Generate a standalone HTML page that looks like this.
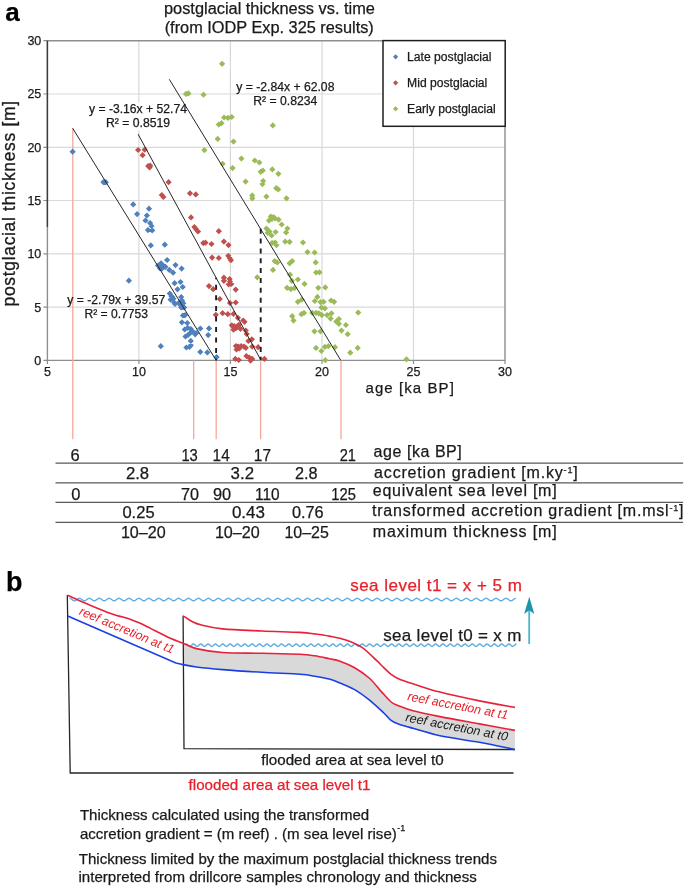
<!DOCTYPE html>
<html><head><meta charset="utf-8"><style>
html,body{margin:0;padding:0;background:#fff;}
svg{display:block;font-family:"Liberation Sans", sans-serif;will-change:transform;}
</style></head><body>
<svg width="685" height="888" viewBox="0 0 685 888">
<rect width="685" height="888" fill="#fff"/>
<path d="M138.9,40.7V360.4 M230.4,40.7V360.4 M322.0,40.7V360.4 M413.5,40.7V360.4 M47.4,307.1H505 M47.4,253.8H505 M47.4,200.5H505 M47.4,147.3H505 M47.4,94.0H505" stroke="#d9d9d9" stroke-width="1.2" fill="none"/>
<rect x="88" y="102.5" width="99" height="28" fill="#fff"/>
<path d="M43.4,360.4H47.4 M43.4,307.1H47.4 M43.4,253.8H47.4 M43.4,200.5H47.4 M43.4,147.3H47.4 M43.4,94.0H47.4 M43.4,40.7H47.4 M47.4,360.4V364 M138.9,360.4V364 M230.4,360.4V364 M322.0,360.4V364 M413.5,360.4V364 M505.0,360.4V364" stroke="#8c8c8c" stroke-width="1.2" fill="none"/>
<path d="M47.4,40.7H505V360.4H47.4Z" stroke="#8e8e8e" stroke-width="1.4" fill="none"/>
<path d="M47.4,40.7V227" stroke="#3c3c3c" stroke-width="1.4" fill="none"/>
<path d="M72.8,128.3V439.3 M193.7,360.4V439.3 M216.2,360.4V439.3 M260.6,360.4V439.3 M341.0,360.4V439.3" stroke="#f4a89c" stroke-width="1.3" fill="none"/>
<path d="M222.1,60.7l3.1,3.1l-3.1,3.1l-3.1,-3.1zM186.0,90.8l3.1,3.1l-3.1,3.1l-3.1,-3.1zM188.4,90.3l3.1,3.1l-3.1,3.1l-3.1,-3.1zM203.5,91.6l3.1,3.1l-3.1,3.1l-3.1,-3.1zM218.8,121.4l3.1,3.1l-3.1,3.1l-3.1,-3.1zM221.5,120.1l3.1,3.1l-3.1,3.1l-3.1,-3.1zM224.1,114.4l3.1,3.1l-3.1,3.1l-3.1,-3.1zM228.0,114.8l3.1,3.1l-3.1,3.1l-3.1,-3.1zM231.7,113.9l3.1,3.1l-3.1,3.1l-3.1,-3.1zM272.8,122.3l3.1,3.1l-3.1,3.1l-3.1,-3.1zM217.7,135.8l3.1,3.1l-3.1,3.1l-3.1,-3.1zM233.5,138.5l3.1,3.1l-3.1,3.1l-3.1,-3.1zM204.4,147.0l3.1,3.1l-3.1,3.1l-3.1,-3.1zM241.4,155.5l3.1,3.1l-3.1,3.1l-3.1,-3.1zM222.6,160.7l3.1,3.1l-3.1,3.1l-3.1,-3.1zM254.8,157.4l3.1,3.1l-3.1,3.1l-3.1,-3.1zM259.4,159.4l3.1,3.1l-3.1,3.1l-3.1,-3.1zM232.6,165.0l3.1,3.1l-3.1,3.1l-3.1,-3.1zM260.7,168.7l3.1,3.1l-3.1,3.1l-3.1,-3.1zM262.8,167.4l3.1,3.1l-3.1,3.1l-3.1,-3.1zM272.3,166.3l3.1,3.1l-3.1,3.1l-3.1,-3.1zM278.4,170.7l3.1,3.1l-3.1,3.1l-3.1,-3.1zM245.6,178.5l3.1,3.1l-3.1,3.1l-3.1,-3.1zM263.1,177.9l3.1,3.1l-3.1,3.1l-3.1,-3.1zM262.4,181.0l3.1,3.1l-3.1,3.1l-3.1,-3.1zM276.2,185.1l3.1,3.1l-3.1,3.1l-3.1,-3.1zM278.2,186.3l3.1,3.1l-3.1,3.1l-3.1,-3.1zM252.2,192.3l3.1,3.1l-3.1,3.1l-3.1,-3.1zM252.3,195.2l3.1,3.1l-3.1,3.1l-3.1,-3.1zM266.4,193.5l3.1,3.1l-3.1,3.1l-3.1,-3.1zM286.5,195.2l3.1,3.1l-3.1,3.1l-3.1,-3.1zM270.8,213.5l3.1,3.1l-3.1,3.1l-3.1,-3.1zM273.4,214.0l3.1,3.1l-3.1,3.1l-3.1,-3.1zM275.1,215.3l3.1,3.1l-3.1,3.1l-3.1,-3.1zM269.0,217.5l3.1,3.1l-3.1,3.1l-3.1,-3.1zM272.1,215.7l3.1,3.1l-3.1,3.1l-3.1,-3.1zM278.6,216.6l3.1,3.1l-3.1,3.1l-3.1,-3.1zM281.7,221.4l3.1,3.1l-3.1,3.1l-3.1,-3.1zM287.4,225.4l3.1,3.1l-3.1,3.1l-3.1,-3.1zM286.1,229.3l3.1,3.1l-3.1,3.1l-3.1,-3.1zM266.4,225.4l3.1,3.1l-3.1,3.1l-3.1,-3.1zM268.1,227.1l3.1,3.1l-3.1,3.1l-3.1,-3.1zM269.4,228.4l3.1,3.1l-3.1,3.1l-3.1,-3.1zM267.7,229.7l3.1,3.1l-3.1,3.1l-3.1,-3.1zM275.6,228.9l3.1,3.1l-3.1,3.1l-3.1,-3.1zM271.6,232.4l3.1,3.1l-3.1,3.1l-3.1,-3.1zM272.1,239.8l3.1,3.1l-3.1,3.1l-3.1,-3.1zM275.1,239.4l3.1,3.1l-3.1,3.1l-3.1,-3.1zM276.5,242.0l3.1,3.1l-3.1,3.1l-3.1,-3.1zM285.2,238.5l3.1,3.1l-3.1,3.1l-3.1,-3.1zM289.6,238.8l3.1,3.1l-3.1,3.1l-3.1,-3.1zM303.0,239.4l3.1,3.1l-3.1,3.1l-3.1,-3.1zM307.5,249.0l3.1,3.1l-3.1,3.1l-3.1,-3.1zM314.6,249.4l3.1,3.1l-3.1,3.1l-3.1,-3.1zM274.7,258.0l3.1,3.1l-3.1,3.1l-3.1,-3.1zM277.3,259.3l3.1,3.1l-3.1,3.1l-3.1,-3.1zM289.6,260.2l3.1,3.1l-3.1,3.1l-3.1,-3.1zM292.2,258.0l3.1,3.1l-3.1,3.1l-3.1,-3.1zM273.0,266.8l3.1,3.1l-3.1,3.1l-3.1,-3.1zM257.2,274.2l3.1,3.1l-3.1,3.1l-3.1,-3.1zM290.0,271.6l3.1,3.1l-3.1,3.1l-3.1,-3.1zM291.8,277.7l3.1,3.1l-3.1,3.1l-3.1,-3.1zM297.9,276.4l3.1,3.1l-3.1,3.1l-3.1,-3.1zM304.5,280.8l3.1,3.1l-3.1,3.1l-3.1,-3.1zM287.0,284.7l3.1,3.1l-3.1,3.1l-3.1,-3.1zM290.9,286.0l3.1,3.1l-3.1,3.1l-3.1,-3.1zM294.4,285.0l3.1,3.1l-3.1,3.1l-3.1,-3.1zM297.9,298.7l3.1,3.1l-3.1,3.1l-3.1,-3.1zM301.8,296.6l3.1,3.1l-3.1,3.1l-3.1,-3.1zM315.7,259.3l3.1,3.1l-3.1,3.1l-3.1,-3.1zM316.1,269.4l3.1,3.1l-3.1,3.1l-3.1,-3.1zM319.5,269.2l3.1,3.1l-3.1,3.1l-3.1,-3.1zM318.3,284.7l3.1,3.1l-3.1,3.1l-3.1,-3.1zM325.3,284.3l3.1,3.1l-3.1,3.1l-3.1,-3.1zM317.4,293.8l3.1,3.1l-3.1,3.1l-3.1,-3.1zM314.8,297.9l3.1,3.1l-3.1,3.1l-3.1,-3.1zM320.5,299.0l3.1,3.1l-3.1,3.1l-3.1,-3.1zM323.6,298.7l3.1,3.1l-3.1,3.1l-3.1,-3.1zM331.0,297.4l3.1,3.1l-3.1,3.1l-3.1,-3.1zM334.1,298.7l3.1,3.1l-3.1,3.1l-3.1,-3.1zM321.4,304.4l3.1,3.1l-3.1,3.1l-3.1,-3.1zM324.9,305.3l3.1,3.1l-3.1,3.1l-3.1,-3.1zM358.2,309.5l3.1,3.1l-3.1,3.1l-3.1,-3.1zM292.2,313.1l3.1,3.1l-3.1,3.1l-3.1,-3.1zM293.5,317.5l3.1,3.1l-3.1,3.1l-3.1,-3.1zM301.4,311.1l3.1,3.1l-3.1,3.1l-3.1,-3.1zM304.0,309.8l3.1,3.1l-3.1,3.1l-3.1,-3.1zM312.4,309.8l3.1,3.1l-3.1,3.1l-3.1,-3.1zM316.1,309.8l3.1,3.1l-3.1,3.1l-3.1,-3.1zM318.8,310.2l3.1,3.1l-3.1,3.1l-3.1,-3.1zM321.8,312.0l3.1,3.1l-3.1,3.1l-3.1,-3.1zM327.1,312.0l3.1,3.1l-3.1,3.1l-3.1,-3.1zM331.5,310.2l3.1,3.1l-3.1,3.1l-3.1,-3.1zM330.6,315.5l3.1,3.1l-3.1,3.1l-3.1,-3.1zM338.9,315.9l3.1,3.1l-3.1,3.1l-3.1,-3.1zM336.3,318.5l3.1,3.1l-3.1,3.1l-3.1,-3.1zM338.9,320.7l3.1,3.1l-3.1,3.1l-3.1,-3.1zM345.9,321.9l3.1,3.1l-3.1,3.1l-3.1,-3.1zM341.5,327.5l3.1,3.1l-3.1,3.1l-3.1,-3.1zM347.7,331.1l3.1,3.1l-3.1,3.1l-3.1,-3.1zM314.4,328.2l3.1,3.1l-3.1,3.1l-3.1,-3.1zM320.5,328.2l3.1,3.1l-3.1,3.1l-3.1,-3.1zM316.0,344.8l3.1,3.1l-3.1,3.1l-3.1,-3.1zM321.4,347.9l3.1,3.1l-3.1,3.1l-3.1,-3.1zM324.9,343.8l3.1,3.1l-3.1,3.1l-3.1,-3.1zM328.4,343.1l3.1,3.1l-3.1,3.1l-3.1,-3.1zM335.0,344.1l3.1,3.1l-3.1,3.1l-3.1,-3.1zM350.3,349.6l3.1,3.1l-3.1,3.1l-3.1,-3.1zM357.7,344.8l3.1,3.1l-3.1,3.1l-3.1,-3.1zM325.3,357.1l3.1,3.1l-3.1,3.1l-3.1,-3.1zM406.5,356.2l3.1,3.1l-3.1,3.1l-3.1,-3.1z" fill="#9bbb59"/>
<path d="M138.1,146.9l3.1,3.1l-3.1,3.1l-3.1,-3.1zM144.7,146.6l3.1,3.1l-3.1,3.1l-3.1,-3.1zM142.6,152.1l3.1,3.1l-3.1,3.1l-3.1,-3.1zM148.2,163.0l3.1,3.1l-3.1,3.1l-3.1,-3.1zM150.2,162.6l3.1,3.1l-3.1,3.1l-3.1,-3.1zM149.6,164.3l3.1,3.1l-3.1,3.1l-3.1,-3.1zM168.6,179.1l3.1,3.1l-3.1,3.1l-3.1,-3.1zM161.8,191.9l3.1,3.1l-3.1,3.1l-3.1,-3.1zM163.4,193.9l3.1,3.1l-3.1,3.1l-3.1,-3.1zM190.0,190.2l3.1,3.1l-3.1,3.1l-3.1,-3.1zM195.8,191.3l3.1,3.1l-3.1,3.1l-3.1,-3.1zM191.0,214.3l3.1,3.1l-3.1,3.1l-3.1,-3.1zM194.4,224.0l3.1,3.1l-3.1,3.1l-3.1,-3.1zM196.2,226.2l3.1,3.1l-3.1,3.1l-3.1,-3.1zM198.0,228.4l3.1,3.1l-3.1,3.1l-3.1,-3.1zM218.8,228.1l3.1,3.1l-3.1,3.1l-3.1,-3.1zM203.3,240.0l3.1,3.1l-3.1,3.1l-3.1,-3.1zM205.5,239.6l3.1,3.1l-3.1,3.1l-3.1,-3.1zM211.5,240.9l3.1,3.1l-3.1,3.1l-3.1,-3.1zM223.9,238.5l3.1,3.1l-3.1,3.1l-3.1,-3.1zM228.5,242.0l3.1,3.1l-3.1,3.1l-3.1,-3.1zM212.1,254.5l3.1,3.1l-3.1,3.1l-3.1,-3.1zM218.8,254.9l3.1,3.1l-3.1,3.1l-3.1,-3.1zM228.3,252.7l3.1,3.1l-3.1,3.1l-3.1,-3.1zM229.6,254.9l3.1,3.1l-3.1,3.1l-3.1,-3.1zM230.9,257.1l3.1,3.1l-3.1,3.1l-3.1,-3.1zM223.9,274.6l3.1,3.1l-3.1,3.1l-3.1,-3.1zM223.9,277.7l3.1,3.1l-3.1,3.1l-3.1,-3.1zM229.6,275.9l3.1,3.1l-3.1,3.1l-3.1,-3.1zM230.0,278.6l3.1,3.1l-3.1,3.1l-3.1,-3.1zM228.7,281.2l3.1,3.1l-3.1,3.1l-3.1,-3.1zM231.3,280.8l3.1,3.1l-3.1,3.1l-3.1,-3.1zM209.0,283.0l3.1,3.1l-3.1,3.1l-3.1,-3.1zM213.2,286.1l3.1,3.1l-3.1,3.1l-3.1,-3.1zM235.7,286.5l3.1,3.1l-3.1,3.1l-3.1,-3.1zM219.8,295.9l3.1,3.1l-3.1,3.1l-3.1,-3.1zM230.0,299.9l3.1,3.1l-3.1,3.1l-3.1,-3.1zM235.7,299.4l3.1,3.1l-3.1,3.1l-3.1,-3.1zM215.8,311.7l3.1,3.1l-3.1,3.1l-3.1,-3.1zM222.6,310.1l3.1,3.1l-3.1,3.1l-3.1,-3.1zM227.8,311.1l3.1,3.1l-3.1,3.1l-3.1,-3.1zM233.5,310.8l3.1,3.1l-3.1,3.1l-3.1,-3.1zM237.9,314.7l3.1,3.1l-3.1,3.1l-3.1,-3.1zM244.5,318.7l3.1,3.1l-3.1,3.1l-3.1,-3.1zM243.2,317.4l3.1,3.1l-3.1,3.1l-3.1,-3.1zM231.8,322.2l3.1,3.1l-3.1,3.1l-3.1,-3.1zM234.4,323.1l3.1,3.1l-3.1,3.1l-3.1,-3.1zM238.8,321.7l3.1,3.1l-3.1,3.1l-3.1,-3.1zM233.5,326.6l3.1,3.1l-3.1,3.1l-3.1,-3.1zM240.5,325.7l3.1,3.1l-3.1,3.1l-3.1,-3.1zM236.2,324.8l3.1,3.1l-3.1,3.1l-3.1,-3.1zM245.8,327.4l3.1,3.1l-3.1,3.1l-3.1,-3.1zM246.7,330.9l3.1,3.1l-3.1,3.1l-3.1,-3.1zM248.4,337.9l3.1,3.1l-3.1,3.1l-3.1,-3.1zM251.9,336.2l3.1,3.1l-3.1,3.1l-3.1,-3.1zM235.9,342.9l3.1,3.1l-3.1,3.1l-3.1,-3.1zM238.2,343.5l3.1,3.1l-3.1,3.1l-3.1,-3.1zM241.1,342.9l3.1,3.1l-3.1,3.1l-3.1,-3.1zM244.0,343.5l3.1,3.1l-3.1,3.1l-3.1,-3.1zM245.8,344.7l3.1,3.1l-3.1,3.1l-3.1,-3.1zM236.5,346.4l3.1,3.1l-3.1,3.1l-3.1,-3.1zM239.4,345.3l3.1,3.1l-3.1,3.1l-3.1,-3.1zM252.2,343.5l3.1,3.1l-3.1,3.1l-3.1,-3.1zM258.1,344.1l3.1,3.1l-3.1,3.1l-3.1,-3.1zM235.3,355.8l3.1,3.1l-3.1,3.1l-3.1,-3.1zM238.8,356.9l3.1,3.1l-3.1,3.1l-3.1,-3.1zM246.4,352.9l3.1,3.1l-3.1,3.1l-3.1,-3.1zM249.3,354.6l3.1,3.1l-3.1,3.1l-3.1,-3.1zM252.2,355.8l3.1,3.1l-3.1,3.1l-3.1,-3.1zM250.5,357.5l3.1,3.1l-3.1,3.1l-3.1,-3.1zM264.5,355.8l3.1,3.1l-3.1,3.1l-3.1,-3.1z" fill="#c0504d"/>
<path d="M72.6,148.6l3.1,3.1l-3.1,3.1l-3.1,-3.1zM103.4,179.1l3.1,3.1l-3.1,3.1l-3.1,-3.1zM105.8,179.1l3.1,3.1l-3.1,3.1l-3.1,-3.1zM133.2,201.3l3.1,3.1l-3.1,3.1l-3.1,-3.1zM137.1,211.0l3.1,3.1l-3.1,3.1l-3.1,-3.1zM149.0,205.6l3.1,3.1l-3.1,3.1l-3.1,-3.1zM146.9,212.4l3.1,3.1l-3.1,3.1l-3.1,-3.1zM145.5,217.4l3.1,3.1l-3.1,3.1l-3.1,-3.1zM150.1,220.0l3.1,3.1l-3.1,3.1l-3.1,-3.1zM151.5,222.9l3.1,3.1l-3.1,3.1l-3.1,-3.1zM148.0,227.0l3.1,3.1l-3.1,3.1l-3.1,-3.1zM152.2,227.3l3.1,3.1l-3.1,3.1l-3.1,-3.1zM150.8,242.3l3.1,3.1l-3.1,3.1l-3.1,-3.1zM164.8,241.6l3.1,3.1l-3.1,3.1l-3.1,-3.1zM167.1,256.9l3.1,3.1l-3.1,3.1l-3.1,-3.1zM158.0,262.4l3.1,3.1l-3.1,3.1l-3.1,-3.1zM161.0,260.2l3.1,3.1l-3.1,3.1l-3.1,-3.1zM163.2,262.4l3.1,3.1l-3.1,3.1l-3.1,-3.1zM161.9,265.5l3.1,3.1l-3.1,3.1l-3.1,-3.1zM165.4,263.7l3.1,3.1l-3.1,3.1l-3.1,-3.1zM159.7,265.0l3.1,3.1l-3.1,3.1l-3.1,-3.1zM175.5,262.0l3.1,3.1l-3.1,3.1l-3.1,-3.1zM181.6,265.5l3.1,3.1l-3.1,3.1l-3.1,-3.1zM169.3,266.8l3.1,3.1l-3.1,3.1l-3.1,-3.1zM173.1,269.6l3.1,3.1l-3.1,3.1l-3.1,-3.1zM174.6,280.1l3.1,3.1l-3.1,3.1l-3.1,-3.1zM180.5,278.9l3.1,3.1l-3.1,3.1l-3.1,-3.1zM182.7,283.9l3.1,3.1l-3.1,3.1l-3.1,-3.1zM177.5,286.2l3.1,3.1l-3.1,3.1l-3.1,-3.1zM169.8,290.4l3.1,3.1l-3.1,3.1l-3.1,-3.1zM171.5,293.1l3.1,3.1l-3.1,3.1l-3.1,-3.1zM173.3,295.7l3.1,3.1l-3.1,3.1l-3.1,-3.1zM170.6,296.6l3.1,3.1l-3.1,3.1l-3.1,-3.1zM174.2,299.6l3.1,3.1l-3.1,3.1l-3.1,-3.1zM175.0,300.9l3.1,3.1l-3.1,3.1l-3.1,-3.1zM172.4,293.9l3.1,3.1l-3.1,3.1l-3.1,-3.1zM181.2,293.9l3.1,3.1l-3.1,3.1l-3.1,-3.1zM182.0,297.4l3.1,3.1l-3.1,3.1l-3.1,-3.1zM183.3,300.1l3.1,3.1l-3.1,3.1l-3.1,-3.1zM180.3,301.8l3.1,3.1l-3.1,3.1l-3.1,-3.1zM181.2,304.4l3.1,3.1l-3.1,3.1l-3.1,-3.1zM184.2,304.4l3.1,3.1l-3.1,3.1l-3.1,-3.1zM179.4,299.2l3.1,3.1l-3.1,3.1l-3.1,-3.1zM182.9,312.4l3.1,3.1l-3.1,3.1l-3.1,-3.1zM185.1,312.0l3.1,3.1l-3.1,3.1l-3.1,-3.1zM181.9,319.2l3.1,3.1l-3.1,3.1l-3.1,-3.1zM187.3,319.9l3.1,3.1l-3.1,3.1l-3.1,-3.1zM184.7,326.4l3.1,3.1l-3.1,3.1l-3.1,-3.1zM187.7,324.7l3.1,3.1l-3.1,3.1l-3.1,-3.1zM190.8,326.0l3.1,3.1l-3.1,3.1l-3.1,-3.1zM192.5,328.2l3.1,3.1l-3.1,3.1l-3.1,-3.1zM195.2,331.2l3.1,3.1l-3.1,3.1l-3.1,-3.1zM185.5,333.4l3.1,3.1l-3.1,3.1l-3.1,-3.1zM188.2,331.7l3.1,3.1l-3.1,3.1l-3.1,-3.1zM190.3,329.9l3.1,3.1l-3.1,3.1l-3.1,-3.1zM200.3,325.4l3.1,3.1l-3.1,3.1l-3.1,-3.1zM196.2,330.1l3.1,3.1l-3.1,3.1l-3.1,-3.1zM209.0,325.3l3.1,3.1l-3.1,3.1l-3.1,-3.1zM208.2,332.0l3.1,3.1l-3.1,3.1l-3.1,-3.1zM190.8,337.8l3.1,3.1l-3.1,3.1l-3.1,-3.1zM186.4,344.4l3.1,3.1l-3.1,3.1l-3.1,-3.1zM189.5,343.9l3.1,3.1l-3.1,3.1l-3.1,-3.1zM190.8,342.2l3.1,3.1l-3.1,3.1l-3.1,-3.1zM160.8,343.1l3.1,3.1l-3.1,3.1l-3.1,-3.1zM200.3,348.8l3.1,3.1l-3.1,3.1l-3.1,-3.1zM207.3,349.3l3.1,3.1l-3.1,3.1l-3.1,-3.1zM216.6,354.0l3.1,3.1l-3.1,3.1l-3.1,-3.1zM128.9,277.6l3.1,3.1l-3.1,3.1l-3.1,-3.1z" fill="#4f81bd"/>
<path d="M72.7,128.3L215.8,359.8M138.1,134.2L260.7,359.8M169.3,79.3L340.7,360.2" stroke="#262626" stroke-width="1.0" fill="none"/>
<path d="M216.1,277.7V360.4" stroke="#1e1e1e" stroke-width="1.9" stroke-dasharray="5 5.55" stroke-dashoffset="3.45" fill="none"/>
<path d="M260.7,228.7V360" stroke="#1e1e1e" stroke-width="1.9" stroke-dasharray="5 4.85" fill="none"/>
<text x="89.0" y="112.5" font-size="12" fill="#1a1a1a" font-weight="normal" text-anchor="start" textLength="97.9" lengthAdjust="spacingAndGlyphs" stroke="#1a1a1a" stroke-width="0.25" >y = -3.16x + 52.74</text>
<text x="106.0" y="126.5" font-size="12" fill="#1a1a1a" font-weight="normal" text-anchor="start" textLength="64.1" lengthAdjust="spacingAndGlyphs" stroke="#1a1a1a" stroke-width="0.25" >R² = 0.8519</text>
<text x="236.3" y="91.2" font-size="12" fill="#1a1a1a" font-weight="normal" text-anchor="start" textLength="98.1" lengthAdjust="spacingAndGlyphs" stroke="#1a1a1a" stroke-width="0.25" >y = -2.84x + 62.08</text>
<text x="253.3" y="104.6" font-size="12" fill="#1a1a1a" font-weight="normal" text-anchor="start" textLength="64.1" lengthAdjust="spacingAndGlyphs" stroke="#1a1a1a" stroke-width="0.25" >R² = 0.8234</text>
<text x="67.3" y="304.1" font-size="12" fill="#1a1a1a" font-weight="normal" text-anchor="start" textLength="97.9" lengthAdjust="spacingAndGlyphs" stroke="#1a1a1a" stroke-width="0.25" >y = -2.79x + 39.57</text>
<text x="84.5" y="318.0" font-size="12" fill="#1a1a1a" font-weight="normal" text-anchor="start" textLength="63.5" lengthAdjust="spacingAndGlyphs" stroke="#1a1a1a" stroke-width="0.25" >R² = 0.7753</text>
<rect x="383" y="40.6" width="122.2" height="85.7" fill="#fff" stroke="#1e1e1e" stroke-width="1.5"/>
<path d="M395.6,54.2l2.6,2.6l-2.6,2.6l-2.6,-2.6z" fill="#4f81bd"/>
<text x="407.1" y="61.0" font-size="12" fill="#1a1a1a" font-weight="normal" text-anchor="start" textLength="84.4" lengthAdjust="spacingAndGlyphs" stroke="#1a1a1a" stroke-width="0.25" >Late postglacial</text>
<path d="M395.6,80.2l2.6,2.6l-2.6,2.6l-2.6,-2.6z" fill="#c0504d"/>
<text x="407.1" y="87.0" font-size="12" fill="#1a1a1a" font-weight="normal" text-anchor="start" textLength="80.2" lengthAdjust="spacingAndGlyphs" stroke="#1a1a1a" stroke-width="0.25" >Mid postglacial</text>
<path d="M395.6,106.2l2.6,2.6l-2.6,2.6l-2.6,-2.6z" fill="#9bbb59"/>
<text x="407.1" y="113.0" font-size="12" fill="#1a1a1a" font-weight="normal" text-anchor="start" textLength="88.6" lengthAdjust="spacingAndGlyphs" stroke="#1a1a1a" stroke-width="0.25" >Early postglacial</text>
<text x="41.3" y="364.8" font-size="12.5" fill="#1a1a1a" font-weight="normal" text-anchor="end" stroke="#1a1a1a" stroke-width="0.25" >0</text>
<text x="41.3" y="311.5" font-size="12.5" fill="#1a1a1a" font-weight="normal" text-anchor="end" stroke="#1a1a1a" stroke-width="0.25" >5</text>
<text x="41.3" y="258.2" font-size="12.5" fill="#1a1a1a" font-weight="normal" text-anchor="end" stroke="#1a1a1a" stroke-width="0.25" >10</text>
<text x="41.3" y="204.9" font-size="12.5" fill="#1a1a1a" font-weight="normal" text-anchor="end" stroke="#1a1a1a" stroke-width="0.25" >15</text>
<text x="41.3" y="151.7" font-size="12.5" fill="#1a1a1a" font-weight="normal" text-anchor="end" stroke="#1a1a1a" stroke-width="0.25" >20</text>
<text x="41.3" y="98.4" font-size="12.5" fill="#1a1a1a" font-weight="normal" text-anchor="end" stroke="#1a1a1a" stroke-width="0.25" >25</text>
<text x="41.3" y="45.1" font-size="12.5" fill="#1a1a1a" font-weight="normal" text-anchor="end" stroke="#1a1a1a" stroke-width="0.25" >30</text>
<text x="47.4" y="375.8" font-size="12.5" fill="#1a1a1a" font-weight="normal" text-anchor="middle" stroke="#1a1a1a" stroke-width="0.25" >5</text>
<text x="138.9" y="375.8" font-size="12.5" fill="#1a1a1a" font-weight="normal" text-anchor="middle" stroke="#1a1a1a" stroke-width="0.25" >10</text>
<text x="230.4" y="375.8" font-size="12.5" fill="#1a1a1a" font-weight="normal" text-anchor="middle" stroke="#1a1a1a" stroke-width="0.25" >15</text>
<text x="322.0" y="375.8" font-size="12.5" fill="#1a1a1a" font-weight="normal" text-anchor="middle" stroke="#1a1a1a" stroke-width="0.25" >20</text>
<text x="413.5" y="375.8" font-size="12.5" fill="#1a1a1a" font-weight="normal" text-anchor="middle" stroke="#1a1a1a" stroke-width="0.25" >25</text>
<text x="505.0" y="375.8" font-size="12.5" fill="#1a1a1a" font-weight="normal" text-anchor="middle" stroke="#1a1a1a" stroke-width="0.25" >30</text>
<text transform="translate(14.6,306.4) rotate(-90)" x="0" y="0" font-size="17.5" fill="#1a1a1a" stroke="#1a1a1a" stroke-width="0.3" textLength="205.5" lengthAdjust="spacing">postglacial thickness [m]</text>
<text x="365.5" y="392.6" font-size="15" fill="#1a1a1a" font-weight="normal" text-anchor="start" textLength="88.3" lengthAdjust="spacing" stroke="#1a1a1a" stroke-width="0.25" >age [ka BP]</text>
<text x="164.0" y="13.9" font-size="16" fill="#1a1a1a" font-weight="normal" text-anchor="start" textLength="210.9" lengthAdjust="spacingAndGlyphs" stroke="#1a1a1a" stroke-width="0.25" >postglacial thickness vs. time</text>
<text x="164.7" y="33.0" font-size="16" fill="#1a1a1a" font-weight="normal" text-anchor="start" textLength="209.1" lengthAdjust="spacingAndGlyphs" stroke="#1a1a1a" stroke-width="0.25" >(from IODP Exp. 325 results)</text>
<text x="5.2" y="21.4" font-size="26" fill="#000" font-weight="bold" text-anchor="start" stroke="#000" stroke-width="0.25" >a</text>
<path d="M55.5,463.2H683.1M55.5,482.8H683.1M55.5,502.4H683.1M55.5,522.4H683.1" stroke="#5a5a5a" stroke-width="1.3" fill="none"/>
<text x="70.4" y="460.6" font-size="16.5" fill="#1a1a1a" font-weight="normal" text-anchor="start" textLength="9.2" lengthAdjust="spacingAndGlyphs" stroke="#1a1a1a" stroke-width="0.25" >6</text>
<text x="181.4" y="460.6" font-size="16.5" fill="#1a1a1a" font-weight="normal" text-anchor="start" textLength="16.4" lengthAdjust="spacingAndGlyphs" stroke="#1a1a1a" stroke-width="0.25" >13</text>
<text x="212.6" y="460.6" font-size="16.5" fill="#1a1a1a" font-weight="normal" text-anchor="start" textLength="17.1" lengthAdjust="spacingAndGlyphs" stroke="#1a1a1a" stroke-width="0.25" >14</text>
<text x="253.8" y="460.6" font-size="16.5" fill="#1a1a1a" font-weight="normal" text-anchor="start" textLength="17.2" lengthAdjust="spacingAndGlyphs" stroke="#1a1a1a" stroke-width="0.25" >17</text>
<text x="339.7" y="460.6" font-size="16.5" fill="#1a1a1a" font-weight="normal" text-anchor="start" textLength="16.2" lengthAdjust="spacingAndGlyphs" stroke="#1a1a1a" stroke-width="0.25" >21</text>
<text x="125.9" y="479.0" font-size="16.5" fill="#1a1a1a" font-weight="normal" text-anchor="start" textLength="23.2" lengthAdjust="spacingAndGlyphs" stroke="#1a1a1a" stroke-width="0.25" >2.8</text>
<text x="230.6" y="479.0" font-size="16.5" fill="#1a1a1a" font-weight="normal" text-anchor="start" textLength="23.4" lengthAdjust="spacingAndGlyphs" stroke="#1a1a1a" stroke-width="0.25" >3.2</text>
<text x="295.0" y="479.0" font-size="16.5" fill="#1a1a1a" font-weight="normal" text-anchor="start" textLength="22.6" lengthAdjust="spacingAndGlyphs" stroke="#1a1a1a" stroke-width="0.25" >2.8</text>
<text x="71.3" y="499.6" font-size="16.5" fill="#1a1a1a" font-weight="normal" text-anchor="start" textLength="9.2" lengthAdjust="spacingAndGlyphs" stroke="#1a1a1a" stroke-width="0.25" >0</text>
<text x="181.0" y="499.6" font-size="16.5" fill="#1a1a1a" font-weight="normal" text-anchor="start" textLength="18.0" lengthAdjust="spacingAndGlyphs" stroke="#1a1a1a" stroke-width="0.25" >70</text>
<text x="212.9" y="499.6" font-size="16.5" fill="#1a1a1a" font-weight="normal" text-anchor="start" textLength="18.2" lengthAdjust="spacingAndGlyphs" stroke="#1a1a1a" stroke-width="0.25" >90</text>
<text x="255.1" y="499.6" font-size="16.5" fill="#1a1a1a" font-weight="normal" text-anchor="start" textLength="24.6" lengthAdjust="spacingAndGlyphs" stroke="#1a1a1a" stroke-width="0.25" >110</text>
<text x="331.3" y="499.6" font-size="16.5" fill="#1a1a1a" font-weight="normal" text-anchor="start" textLength="24.6" lengthAdjust="spacingAndGlyphs" stroke="#1a1a1a" stroke-width="0.25" >125</text>
<text x="122.4" y="518.4" font-size="16.5" fill="#1a1a1a" font-weight="normal" text-anchor="start" textLength="32.2" lengthAdjust="spacingAndGlyphs" stroke="#1a1a1a" stroke-width="0.25" >0.25</text>
<text x="231.9" y="518.4" font-size="16.5" fill="#1a1a1a" font-weight="normal" text-anchor="start" textLength="33.1" lengthAdjust="spacingAndGlyphs" stroke="#1a1a1a" stroke-width="0.25" >0.43</text>
<text x="291.9" y="518.4" font-size="16.5" fill="#1a1a1a" font-weight="normal" text-anchor="start" textLength="31.7" lengthAdjust="spacingAndGlyphs" stroke="#1a1a1a" stroke-width="0.25" >0.76</text>
<text x="120.9" y="538.4" font-size="16.5" fill="#1a1a1a" font-weight="normal" text-anchor="start" textLength="44.8" lengthAdjust="spacingAndGlyphs" stroke="#1a1a1a" stroke-width="0.25" >10–20</text>
<text x="214.9" y="538.4" font-size="16.5" fill="#1a1a1a" font-weight="normal" text-anchor="start" textLength="44.8" lengthAdjust="spacingAndGlyphs" stroke="#1a1a1a" stroke-width="0.25" >10–20</text>
<text x="284.5" y="538.4" font-size="16.5" fill="#1a1a1a" font-weight="normal" text-anchor="start" textLength="44.3" lengthAdjust="spacingAndGlyphs" stroke="#1a1a1a" stroke-width="0.25" >10–25</text>
<text x="373.5" y="457.2" font-size="16" fill="#1a1a1a" font-weight="normal" text-anchor="start" textLength="88.3" lengthAdjust="spacing" stroke="#1a1a1a" stroke-width="0.25" >age [ka BP]</text>
<text x="374.1" y="478.2" font-size="16" fill="#1a1a1a" font-weight="normal" text-anchor="start" textLength="203.6" lengthAdjust="spacing" stroke="#1a1a1a" stroke-width="0.25" >accretion gradient [m.ky<tspan dy="-5" font-size="9">-1</tspan><tspan dy="5">]</tspan></text>
<text x="372.8" y="496.3" font-size="16" fill="#1a1a1a" font-weight="normal" text-anchor="start" textLength="183.8" lengthAdjust="spacing" stroke="#1a1a1a" stroke-width="0.25" >equivalent sea level [m]</text>
<text x="372.0" y="516.2" font-size="16" fill="#1a1a1a" font-weight="normal" text-anchor="start" textLength="311.4" lengthAdjust="spacing" stroke="#1a1a1a" stroke-width="0.25" >transformed accretion gradient [m.msl<tspan dy="-5" font-size="9">-1</tspan><tspan dy="5">]</tspan></text>
<text x="372.8" y="536.5" font-size="16" fill="#1a1a1a" font-weight="normal" text-anchor="start" textLength="183.8" lengthAdjust="spacing" stroke="#1a1a1a" stroke-width="0.25" >maximum thickness [m]</text>
<text x="6.0" y="590.7" font-size="27" fill="#000" font-weight="bold" text-anchor="start" stroke="#000" stroke-width="0.25" >b</text>
<path d="M183.1,643.2 C185.30,644.10 189.73,647.05 196.3,648.6 C202.87,650.15 211.55,651.72 222.5,652.5 C233.45,653.28 249.08,653.00 262,653.3 C274.92,653.60 291.23,653.88 300,654.3 C308.77,654.72 309.73,655.07 314.6,655.8 C319.47,656.53 324.97,657.80 329.2,658.7 C333.43,659.60 335.77,659.70 340,661.2 C344.23,662.70 349.73,664.90 354.6,667.7 C359.47,670.50 364.82,674.10 369.2,678 C373.58,681.90 377.25,687.10 380.9,691.1 C384.55,695.10 388.18,699.57 391.1,702 C394.02,704.43 394.75,704.23 398.4,705.7 C402.05,707.17 406.07,708.98 413,710.8 C419.93,712.62 428.93,714.42 440,716.6 C451.07,718.78 466.92,721.60 479.4,723.9 C491.88,726.20 508.98,729.32 514.9,730.4 L514.9,749.5 C508.98,748.30 491.88,744.60 479.4,742.3 C466.92,740.00 451.07,738.03 440,735.7 C428.93,733.37 419.93,730.27 413,728.3 C406.07,726.33 402.05,725.23 398.4,723.9 C394.75,722.57 393.53,722.12 391.1,720.3 C388.67,718.48 387.45,716.40 383.8,713 C380.15,709.60 374.07,703.80 369.2,699.9 C364.33,696.00 359.47,692.40 354.6,689.6 C349.73,686.80 344.23,684.85 340,683.1 C335.77,681.35 333.43,680.25 329.2,679.1 C324.97,677.95 319.47,677.00 314.6,676.2 C309.73,675.40 308.77,674.95 300,674.3 C291.23,673.65 274.92,673.08 262,672.3 C249.08,671.52 233.45,670.48 222.5,669.6 C211.55,668.72 202.87,667.83 196.3,667 C189.73,666.17 185.30,665.00 183.1,664.6 Z" fill="#d9d9d9"/>
<path d="M67.3,595 L70.2,773 L513.5,773" stroke="#262626" stroke-width="1.3" fill="none"/>
<path d="M183.1,615.8 L184,748.6 L514.9,749.5" stroke="#262626" stroke-width="1.3" fill="none"/>
<path d="M69.5,598.15 c1.79,0 3.18,2.70 4.96,2.70 s3.18,-2.70 4.96,-2.70 s3.18,2.70 4.96,2.70 s3.18,-2.70 4.96,-2.70 s3.18,2.70 4.96,2.70 s3.18,-2.70 4.96,-2.70 s3.18,2.70 4.96,2.70 s3.18,-2.70 4.96,-2.70 s3.18,2.70 4.96,2.70 s3.18,-2.70 4.96,-2.70 s3.18,2.70 4.96,2.70 s3.18,-2.70 4.96,-2.70 s3.18,2.70 4.96,2.70 s3.18,-2.70 4.96,-2.70 s3.18,2.70 4.96,2.70 s3.18,-2.70 4.96,-2.70 s3.18,2.70 4.96,2.70 s3.18,-2.70 4.96,-2.70 s3.18,2.70 4.96,2.70 s3.18,-2.70 4.96,-2.70 s3.18,2.70 4.96,2.70 s3.18,-2.70 4.96,-2.70 s3.18,2.70 4.96,2.70 s3.18,-2.70 4.96,-2.70 s3.18,2.70 4.96,2.70 s3.18,-2.70 4.96,-2.70 s3.18,2.70 4.96,2.70 s3.18,-2.70 4.96,-2.70 s3.18,2.70 4.96,2.70 s3.18,-2.70 4.96,-2.70 s3.18,2.70 4.96,2.70 s3.18,-2.70 4.96,-2.70 s3.18,2.70 4.96,2.70 s3.18,-2.70 4.96,-2.70 s3.18,2.70 4.96,2.70 s3.18,-2.70 4.96,-2.70 s3.18,2.70 4.96,2.70 s3.18,-2.70 4.96,-2.70 s3.18,2.70 4.96,2.70 s3.18,-2.70 4.96,-2.70 s3.18,2.70 4.96,2.70 s3.18,-2.70 4.96,-2.70 s3.18,2.70 4.96,2.70 s3.18,-2.70 4.96,-2.70 s3.18,2.70 4.96,2.70 s3.18,-2.70 4.96,-2.70 s3.18,2.70 4.96,2.70 s3.18,-2.70 4.96,-2.70 s3.18,2.70 4.96,2.70 s3.18,-2.70 4.96,-2.70 s3.18,2.70 4.96,2.70 s3.18,-2.70 4.96,-2.70 s3.18,2.70 4.96,2.70 s3.18,-2.70 4.96,-2.70 s3.18,2.70 4.96,2.70 s3.18,-2.70 4.96,-2.70 s3.18,2.70 4.96,2.70 s3.18,-2.70 4.96,-2.70 s3.18,2.70 4.96,2.70 s3.18,-2.70 4.96,-2.70 s3.18,2.70 4.96,2.70 s3.18,-2.70 4.96,-2.70 s3.18,2.70 4.96,2.70 s3.18,-2.70 4.96,-2.70 s3.18,2.70 4.96,2.70 s3.18,-2.70 4.96,-2.70 s3.18,2.70 4.96,2.70 s3.18,-2.70 4.96,-2.70 s3.18,2.70 4.96,2.70 s3.18,-2.70 4.96,-2.70 s3.18,2.70 4.96,2.70 s3.18,-2.70 4.96,-2.70 s3.18,2.70 4.96,2.70 s3.18,-2.70 4.96,-2.70 s3.18,2.70 4.96,2.70 s3.18,-2.70 4.96,-2.70 s3.18,2.70 4.96,2.70 s3.18,-2.70 4.96,-2.70 s3.18,2.70 4.96,2.70 s3.18,-2.70 4.96,-2.70 s3.18,2.70 4.96,2.70 s3.18,-2.70 4.96,-2.70 s3.18,2.70 4.96,2.70 s3.18,-2.70 4.96,-2.70 s3.18,2.70 4.96,2.70 s3.18,-2.70 4.96,-2.70 s3.18,2.70 4.96,2.70 s3.18,-2.70 4.96,-2.70 s3.18,2.70 4.96,2.70 s3.18,-2.70 4.96,-2.70" stroke="#62aee0" stroke-width="1.5" fill="none"/>
<path d="M186.1,643.95 c1.32,0 2.35,2.50 3.67,2.50 s2.35,-2.50 3.67,-2.50 s2.35,2.50 3.67,2.50 s2.35,-2.50 3.67,-2.50 s2.35,2.50 3.67,2.50 s2.35,-2.50 3.67,-2.50 s2.35,2.50 3.67,2.50 s2.35,-2.50 3.67,-2.50 s2.35,2.50 3.67,2.50 s2.35,-2.50 3.67,-2.50 s2.35,2.50 3.67,2.50 s2.35,-2.50 3.67,-2.50 s2.35,2.50 3.67,2.50 s2.35,-2.50 3.67,-2.50 s2.35,2.50 3.67,2.50 s2.35,-2.50 3.67,-2.50 s2.35,2.50 3.67,2.50 s2.35,-2.50 3.67,-2.50 s2.35,2.50 3.67,2.50 s2.35,-2.50 3.67,-2.50 s2.35,2.50 3.67,2.50 s2.35,-2.50 3.67,-2.50 s2.35,2.50 3.67,2.50 s2.35,-2.50 3.67,-2.50 s2.35,2.50 3.67,2.50 s2.35,-2.50 3.67,-2.50 s2.35,2.50 3.67,2.50 s2.35,-2.50 3.67,-2.50 s2.35,2.50 3.67,2.50 s2.35,-2.50 3.67,-2.50 s2.35,2.50 3.67,2.50 s2.35,-2.50 3.67,-2.50 s2.35,2.50 3.67,2.50 s2.35,-2.50 3.67,-2.50 s2.35,2.50 3.67,2.50 s2.35,-2.50 3.67,-2.50 s2.35,2.50 3.67,2.50 s2.35,-2.50 3.67,-2.50 s2.35,2.50 3.67,2.50 s2.35,-2.50 3.67,-2.50 s2.35,2.50 3.67,2.50 s2.35,-2.50 3.67,-2.50 s2.35,2.50 3.67,2.50 s2.35,-2.50 3.67,-2.50 s2.35,2.50 3.67,2.50 s2.35,-2.50 3.67,-2.50 s2.35,2.50 3.67,2.50 s2.35,-2.50 3.67,-2.50 s2.35,2.50 3.67,2.50 s2.35,-2.50 3.67,-2.50 s2.35,2.50 3.67,2.50 s2.35,-2.50 3.67,-2.50 s2.35,2.50 3.67,2.50 s2.35,-2.50 3.67,-2.50 s2.35,2.50 3.67,2.50 s2.35,-2.50 3.67,-2.50 s2.35,2.50 3.67,2.50 s2.35,-2.50 3.67,-2.50 s2.35,2.50 3.67,2.50 s2.35,-2.50 3.67,-2.50 s2.35,2.50 3.67,2.50 s2.35,-2.50 3.67,-2.50 s2.35,2.50 3.67,2.50 s2.35,-2.50 3.67,-2.50 s2.35,2.50 3.67,2.50 s2.35,-2.50 3.67,-2.50 s2.35,2.50 3.67,2.50 s2.35,-2.50 3.67,-2.50 s2.35,2.50 3.67,2.50 s2.35,-2.50 3.67,-2.50 s2.35,2.50 3.67,2.50 s2.35,-2.50 3.67,-2.50 s2.35,2.50 3.67,2.50 s2.35,-2.50 3.67,-2.50 s2.35,2.50 3.67,2.50 s2.35,-2.50 3.67,-2.50 s2.35,2.50 3.67,2.50 s2.35,-2.50 3.67,-2.50 s2.35,2.50 3.67,2.50 s2.35,-2.50 3.67,-2.50 s2.35,2.50 3.67,2.50 s2.35,-2.50 3.67,-2.50 s2.35,2.50 3.67,2.50 s2.35,-2.50 3.67,-2.50 s2.35,2.50 3.67,2.50 s2.35,-2.50 3.67,-2.50 s2.35,2.50 3.67,2.50 s2.35,-2.50 3.67,-2.50 s2.35,2.50 3.67,2.50 s2.35,-2.50 3.67,-2.50" stroke="#62aee0" stroke-width="1.5" fill="none"/>
<path d="M67.5,595.3 C70.82,596.75 80.20,600.98 87.4,604 C94.60,607.02 103.60,610.87 110.7,613.4 C117.80,615.93 125.08,617.55 130,619.2 C134.92,620.85 136.80,621.77 140.2,623.3 C143.60,624.83 146.98,626.70 150.4,628.4 C153.82,630.10 157.28,631.80 160.7,633.5 C164.12,635.20 167.17,636.98 170.9,638.6 C174.63,640.22 178.87,641.53 183.1,643.2 C187.33,644.87 189.73,647.05 196.3,648.6 C202.87,650.15 211.55,651.72 222.5,652.5 C233.45,653.28 249.08,653.00 262,653.3 C274.92,653.60 291.23,653.88 300,654.3 C308.77,654.72 309.73,655.07 314.6,655.8 C319.47,656.53 324.97,657.80 329.2,658.7 C333.43,659.60 335.77,659.70 340,661.2 C344.23,662.70 349.73,664.90 354.6,667.7 C359.47,670.50 364.82,674.10 369.2,678 C373.58,681.90 377.25,687.10 380.9,691.1 C384.55,695.10 388.18,699.57 391.1,702 C394.02,704.43 394.75,704.23 398.4,705.7 C402.05,707.17 406.07,708.98 413,710.8 C419.93,712.62 428.93,714.42 440,716.6 C451.07,718.78 466.92,721.60 479.4,723.9 C491.88,726.20 508.98,729.32 514.9,730.4" stroke="#e8203a" stroke-width="1.6" fill="none"/>
<path d="M183.1,615.8 C184.58,616.75 188.93,619.97 192,621.5 C195.07,623.03 196.42,623.77 201.5,625 C206.58,626.23 212.42,627.90 222.5,628.9 C232.58,629.90 249.08,630.42 262,631 C274.92,631.58 291.23,631.92 300,632.4 C308.77,632.88 309.73,633.28 314.6,633.9 C319.47,634.52 324.00,635.08 329.2,636.1 C334.40,637.12 340.35,638.13 345.8,640 C351.25,641.87 356.78,643.90 361.9,647.3 C367.02,650.70 372.85,657.00 376.5,660.4 C380.15,663.80 381.37,665.38 383.8,667.7 C386.23,670.02 388.67,672.47 391.1,674.3 C393.53,676.13 394.75,677.12 398.4,678.7 C402.05,680.28 406.07,681.57 413,683.8 C419.93,686.03 428.93,689.25 440,692.1 C451.07,694.95 466.92,698.35 479.4,700.9 C491.88,703.45 508.98,706.32 514.9,707.4" stroke="#e8203a" stroke-width="1.6" fill="none"/>
<path d="M67.7,616.1 L175.9,663  C177.10,663.27 179.70,663.93 183.1,664.6 C186.50,665.27 189.73,666.17 196.3,667 C202.87,667.83 211.55,668.72 222.5,669.6 C233.45,670.48 249.08,671.52 262,672.3 C274.92,673.08 291.23,673.65 300,674.3 C308.77,674.95 309.73,675.40 314.6,676.2 C319.47,677.00 324.97,677.95 329.2,679.1 C333.43,680.25 335.77,681.35 340,683.1 C344.23,684.85 349.73,686.80 354.6,689.6 C359.47,692.40 364.33,696.00 369.2,699.9 C374.07,703.80 380.15,709.60 383.8,713 C387.45,716.40 388.67,718.48 391.1,720.3 C393.53,722.12 394.75,722.57 398.4,723.9 C402.05,725.23 406.07,726.33 413,728.3 C419.93,730.27 428.93,733.37 440,735.7 C451.07,738.03 466.92,740.00 479.4,742.3 C491.88,744.60 508.98,748.30 514.9,749.5" stroke="#1a3ee6" stroke-width="1.6" fill="none"/>
<path d="M529.2,644V610" stroke="#4bb3cc" stroke-width="1.8" fill="none"/>
<path d="M529.3,596.8 L534.3,614 L529.2,610.3 L524.1,614 Z" fill="#1b95ae"/>
<text x="350.2" y="590.7" font-size="17" fill="#e8202a" font-weight="normal" text-anchor="start" textLength="171.6" lengthAdjust="spacing" stroke="#e8202a" stroke-width="0.25" >sea level t1 = x + 5 m</text>
<text x="383.2" y="640.6" font-size="17" fill="#1a1a1a" font-weight="normal" text-anchor="start" textLength="138.1" lengthAdjust="spacing" stroke="#1a1a1a" stroke-width="0.25" >sea level t0 = x m</text>
<text transform="translate(78.5,614.3) rotate(22.8)" font-size="12.5" font-style="italic" fill="#e8202a" textLength="101.5" lengthAdjust="spacingAndGlyphs">reef accretion at t1</text>
<text transform="translate(407,700.1) rotate(10.9)" font-size="12.5" font-style="italic" fill="#e8202a" textLength="102" lengthAdjust="spacingAndGlyphs">reef accretion at t1</text>
<text transform="translate(405,721.1) rotate(11)" font-size="12.5" font-style="italic" fill="#1a1a1a" textLength="104" lengthAdjust="spacingAndGlyphs">reef accretion at t0</text>
<text x="261.2" y="764.6" font-size="14" fill="#1a1a1a" font-weight="normal" text-anchor="start" textLength="182.4" lengthAdjust="spacingAndGlyphs" stroke="#1a1a1a" stroke-width="0.25" >flooded area at sea level t0</text>
<text x="188.6" y="789.6" font-size="14.5" fill="#e8202a" font-weight="normal" text-anchor="start" textLength="181.9" lengthAdjust="spacingAndGlyphs" stroke="#e8202a" stroke-width="0.25" >flooded area at sea level t1</text>
<text x="79.9" y="819.8" font-size="14.5" fill="#1a1a1a" font-weight="normal" text-anchor="start" textLength="289.3" lengthAdjust="spacingAndGlyphs" stroke="#1a1a1a" stroke-width="0.25" >Thickness calculated using the transformed</text>
<text x="79.9" y="838.7" font-size="14.5" fill="#1a1a1a" font-weight="normal" text-anchor="start" textLength="316.9" lengthAdjust="spacingAndGlyphs" stroke="#1a1a1a" stroke-width="0.25" >accretion gradient = (m reef) . (m sea level rise)</text>
<text x="397.2" y="830.5" font-size="9" fill="#1a1a1a" font-weight="normal" text-anchor="start" stroke="#1a1a1a" stroke-width="0.25" >-1</text>
<text x="78.8" y="864.2" font-size="14.5" fill="#1a1a1a" font-weight="normal" text-anchor="start" textLength="418.2" lengthAdjust="spacingAndGlyphs" stroke="#1a1a1a" stroke-width="0.25" >Thickness limited by the maximum postglacial thickness trends</text>
<text x="78.5" y="882.2" font-size="14.5" fill="#1a1a1a" font-weight="normal" text-anchor="start" textLength="398.3" lengthAdjust="spacingAndGlyphs" stroke="#1a1a1a" stroke-width="0.25" >interpreted from drillcore samples chronology and thickness</text>
</svg>
</body></html>
